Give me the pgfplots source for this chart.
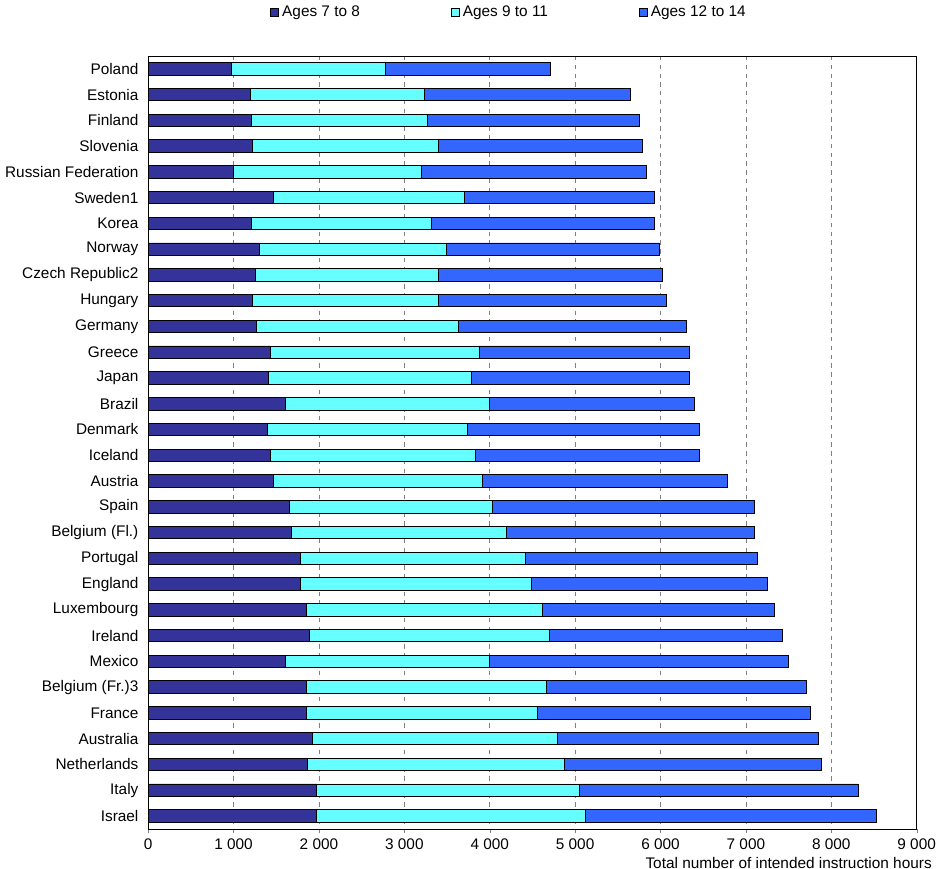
\documentclass[border=0pt]{standalone}
\usepackage{pgfplots}
\usepackage{pgfplotstable}
\pgfplotsset{compat=1.18}
\usepackage{fontspec}
\setmainfont{Liberation Sans}
\definecolor{cA}{HTML}{333399}
\definecolor{cB}{HTML}{66FFFF}
\definecolor{cC}{HTML}{3366FF}
\pgfplotstableread{
i a b c
0 970 1813 1925
1 1202 2035 2415
2 1214 2060 2476
3 1226 2170 2391
4 993 2207 2636
5 1471 2232 2231
6 1214 2109 2611
7 1300 2194 2489
8 1251 2145 2624
9 1226 2170 2673
10 1263 2366 2673
11 1435 2439 2465
12 1410 2379 2550
13 1606 2391 2403
14 1398 2342 2721
15 1435 2403 2623
16 1471 2440 2869
17 1655 2379 3065
18 1680 2513 2906
19 1778 2636 2722
20 1778 2709 2771
21 1851 2771 2710
22 1888 2808 2734
23 1606 2391 3507
24 1851 2808 3053
25 1851 2710 3200
26 1925 2869 3053
27 1864 3016 3004
28 1974 3078 3261
29 1974 3151 3409
}\data
\begin{document}
\fontsize{10.5}{12}\selectfont
\begin{tikzpicture}
\begin{axis}[
  width=525pt, height=528pt, scale only axis,
  xbar stacked, bar width=8.5pt,
  y dir=reverse,
  ymin=-0.5, ymax=29.5,
  xmin=0, xmax=9000,
  xtick={0,1000,...,9000},
  ytick={0,...,29},
  yticklabels={Poland,Estonia,Finland,Slovenia,Russian Federation,Sweden1,Korea,Norway,Czech Republic2,Hungary,Germany,Greece,Japan,Brazil,Denmark,Iceland,Austria,Spain,Belgium (Fl.),Portugal,England,Luxembourg,Ireland,Mexico,Belgium (Fr.)3,France,Australia,Netherlands,Italy,Israel},
  /pgf/number format/1000 sep={\ },
  /pgf/number format/assume math mode=true,
  scaled x ticks=false,
  xmajorgrids, major grid style={gray, dashed},
  major tick length=3pt,
  ytick style={draw=none},
  tick align=outside,
  xtick pos=bottom,
  axis line style={black},
  xlabel={Total number of intended instruction hours},
  xlabel style={at={(axis description cs:1.02,0)}, anchor=north east, yshift=-19pt, inner sep=0pt},
  legend columns=3,
  legend style={draw=none, at={(0.47,1.04)}, anchor=south, /tikz/every even column/.append style={column sep=60pt}},
  legend image code/.code={\draw[#1, draw=black] (0cm,-0.1cm) rectangle (0.2cm,0.1cm);},
  every axis plot/.append style={draw=black, line width=0.6pt},
]
\addplot[fill=cA] table[x=a,y=i]{\data};
\addplot[fill=cB] table[x=b,y=i]{\data};
\addplot[fill=cC] table[x=c,y=i]{\data};
\legend{Ages 7 to 8, Ages 9 to 11, Ages 12 to 14}
\end{axis}
\end{tikzpicture}
\end{document}
